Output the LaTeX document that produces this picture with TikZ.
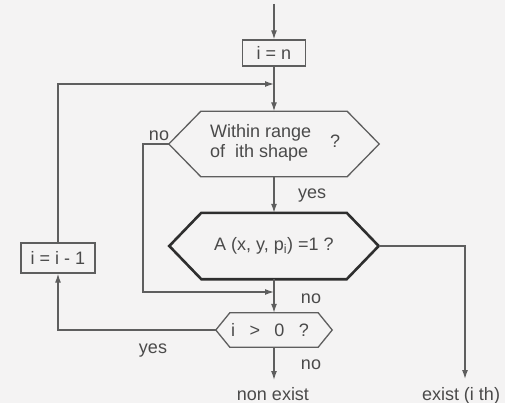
\documentclass[tikz,border=0pt]{standalone}
\usepackage{fontspec}
\setmainfont{Liberation Sans}
\usetikzlibrary{arrows.meta}
\definecolor{bg}{HTML}{F4F3F3}
\definecolor{lnc}{HTML}{5E5E5E}
\definecolor{dkc}{HTML}{2E2E2E}
\definecolor{txc}{HTML}{4A4A4A}
\begin{document}
\begin{tikzpicture}[x=1pt,y=-1pt,
  every node/.style={font=\fontsize{18}{20}\selectfont, text=txc, inner sep=0pt},
  thin line/.style={draw=lnc, line width=1.3pt},
  arr/.style={thin line, -{Latex[length=9pt,width=6pt]}},
  boxnode/.style={draw=lnc, line width=1.3pt, rectangle},
  frame/.style={minimum width=#1},
  hexfill/.style={line join=miter}]
\fill[bg] (0,0) rectangle (505,403);
\useasboundingbox (0,0) rectangle (505,403);

% boxes
\node[boxnode, minimum width=63pt, minimum height=26pt] (bn) at (274,53) {i = n};
\node[boxnode, minimum width=74pt, minimum height=30pt] (bm) at (58,258) {i = i - 1};

% hexagon frames
\node[minimum width=210pt, minimum height=65pt] (h1) at (274,144) {};
\node[minimum width=209pt, minimum height=66pt] (h2) at (274,246) {};
\node[minimum width=116pt, minimum height=34pt] (h3) at (274,330) {};

\draw[thin line, hexfill] (h1.west) -- ([xshift=32pt]h1.north west) -- ([xshift=-32pt]h1.north east) -- (h1.east) -- ([xshift=-32pt]h1.south east) -- ([xshift=32pt]h1.south west) -- cycle;
\draw[draw=dkc, line width=2.6pt, hexfill] (h2.west) -- ([xshift=32pt]h2.north west) -- ([xshift=-32pt]h2.north east) -- (h2.east) -- ([xshift=-32pt]h2.south east) -- ([xshift=32pt]h2.south west) -- cycle;
\draw[thin line, hexfill] (h3.west) -- ([xshift=14pt]h3.north west) -- ([xshift=-14pt]h3.north east) -- (h3.east) -- ([xshift=-14pt]h3.south east) -- ([xshift=14pt]h3.south west) -- cycle;

% hexagon texts
\node[anchor=base west] (t1a) at (210,138) {Within range};
\node[anchor=base west] (t1b) at (210,158) {of\ \ ith shape};
\node (q1) at (335,141) {?};
\node (t2) at (274,246) {A (x, y, p\textsubscript{i}) =1 ?};
\node (t3) at (270,330) {i\hspace{0.8em}>\hspace{0.8em}0\hspace{0.8em}?};

% coordinates
\coordinate (top) at (274,4);
\coordinate (j1) at (274,84);
\coordinate (nl) at (143,292);
\coordinate (j2) at (274,292);
\coordinate (ex) at (465,379);
\coordinate (ne) at (274,380);

% connectors
\draw[arr] (top) -- (bn.north);
\draw[arr] (bn.south) -- (h1.north);
\draw[arr] (bm.north) |- (j1);
\draw[arr] (h1.west) -| (nl) -- (j2);
\draw[arr] (h1.south) -- (h2.north);
\draw[arr] (h2.east) -| (ex);
\draw[arr] (h2.south) -- (h3.north);
\draw[arr] (h3.west) -| (bm.south);
\draw[arr] (h3.south) -- (ne);

% labels
\node[anchor=base] (lno1) at (159,141) {no};
\node[anchor=base] (lyes1) at (312,199) {yes};
\node[anchor=base] (lno2) at (311,303) {no};
\node[anchor=base] (lyes2) at (153,353) {yes};
\node[anchor=base] (lno3) at (311,369) {no};
\node[anchor=base] (lne) at (273,400) {non exist};
\node[anchor=base] (lex) at (461,400) {exist (i th)};
\end{tikzpicture}
\end{document}
